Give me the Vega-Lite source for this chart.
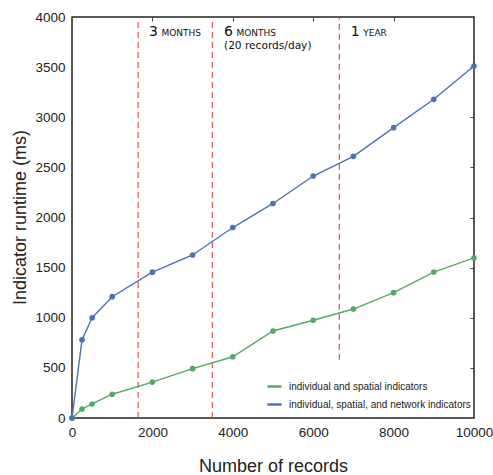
{
  "$schema": "https://vega.github.io/schema/vega-lite/v6.json",
  "width": 402,
  "height": 401,
  "autosize": "none",
  "padding": {"left": 72, "top": 17, "right": 19, "bottom": 57},
  "background": "white",
  "config": {
    "font": "Liberation Sans",
    "view": {"stroke": "#222", "strokeWidth": 1.5}
  },
  "datasets": {
    "series": [
      {"records": 0, "runtime": 0, "series": "individual and spatial indicators"},
      {"records": 250, "runtime": 90, "series": "individual and spatial indicators"},
      {"records": 500, "runtime": 140, "series": "individual and spatial indicators"},
      {"records": 1000, "runtime": 237, "series": "individual and spatial indicators"},
      {"records": 2000, "runtime": 358, "series": "individual and spatial indicators"},
      {"records": 3000, "runtime": 492, "series": "individual and spatial indicators"},
      {"records": 4000, "runtime": 611, "series": "individual and spatial indicators"},
      {"records": 5000, "runtime": 868, "series": "individual and spatial indicators"},
      {"records": 6000, "runtime": 975, "series": "individual and spatial indicators"},
      {"records": 7000, "runtime": 1087, "series": "individual and spatial indicators"},
      {"records": 8000, "runtime": 1250, "series": "individual and spatial indicators"},
      {"records": 9000, "runtime": 1456, "series": "individual and spatial indicators"},
      {"records": 10000, "runtime": 1597, "series": "individual and spatial indicators"},
      {"records": 0, "runtime": 0, "series": "individual, spatial, and network indicators"},
      {"records": 250, "runtime": 780, "series": "individual, spatial, and network indicators"},
      {"records": 500, "runtime": 1000, "series": "individual, spatial, and network indicators"},
      {"records": 1000, "runtime": 1210, "series": "individual, spatial, and network indicators"},
      {"records": 2000, "runtime": 1455, "series": "individual, spatial, and network indicators"},
      {"records": 3000, "runtime": 1626, "series": "individual, spatial, and network indicators"},
      {"records": 4000, "runtime": 1900, "series": "individual, spatial, and network indicators"},
      {"records": 5000, "runtime": 2140, "series": "individual, spatial, and network indicators"},
      {"records": 6000, "runtime": 2414, "series": "individual, spatial, and network indicators"},
      {"records": 7000, "runtime": 2610, "series": "individual, spatial, and network indicators"},
      {"records": 8000, "runtime": 2896, "series": "individual, spatial, and network indicators"},
      {"records": 9000, "runtime": 3179, "series": "individual, spatial, and network indicators"},
      {"records": 10000, "runtime": 3511, "series": "individual, spatial, and network indicators"}
    ],
    "marks": [
      {"records": 1645, "from": 0, "to": 4000},
      {"records": 3490, "from": 0, "to": 4000},
      {"records": 6650, "from": 580, "to": 4000}
    ],
    "labels": [
      {"records": 1915, "runtime": 3810, "num": "3", "word": "MONTHS"},
      {"records": 3781, "runtime": 3810, "num": "6", "word": "MONTHS"},
      {"records": 6933, "runtime": 3810, "num": "1", "word": "YEAR"}
    ],
    "sub": [
      {"records": 3781, "runtime": 3680, "text": "(20 records/day)"}
    ]
  },
  "layer": [
    {
      "data": {"name": "marks"},
      "mark": {"type": "rule", "color": "#e0443c", "strokeWidth": 1.1, "strokeDash": [6, 4]},
      "encoding": {
        "x": {"field": "records", "type": "quantitative", "scale": {"domain": [0, 10000], "nice": false},
          "axis": {"title": "Number of records", "values": [0, 2000, 4000, 6000, 8000, 10000], "format": "d", "ticks": false, "domain": false, "grid": false, "labelFlush": false,
            "labelFontSize": 13.5, "labelColor": "#222", "labelPadding": 7, "titleFontSize": 18, "titleFontWeight": "normal", "titleColor": "#222", "titleY": 48, "titleBaseline": "middle"}},
        "y": {"field": "from", "type": "quantitative", "scale": {"domain": [0, 4000], "nice": false},
          "axis": {"title": "Indicator runtime (ms)", "values": [0, 500, 1000, 1500, 2000, 2500, 3000, 3500, 4000], "format": "d", "ticks": false, "domain": false, "grid": false, "labelFlush": false,
            "labelFontSize": 13.5, "labelColor": "#222", "labelPadding": 7, "titleFontSize": 18, "titleFontWeight": "normal", "titleColor": "#222", "titleX": -52, "titleY": 200, "titleBaseline": "middle", "titleAlign": "center", "titleAngle": -90}},
        "y2": {"field": "to"}
      }
    },
    {
      "data": {"name": "series"},
      "mark": {"type": "line", "strokeWidth": 1.4},
      "encoding": {
        "x": {"field": "records", "type": "quantitative", "axis": null},
        "y": {"field": "runtime", "type": "quantitative", "axis": null},
        "color": {"field": "series", "type": "nominal",
          "scale": {"domain": ["individual and spatial indicators", "individual, spatial, and network indicators"], "range": ["#55a868", "#4c72b0"]},
          "legend": {"title": null, "orient": "none", "legendX": 194, "legendY": 361, "labelFontSize": 10, "labelLimit": 400, "labelColor": "#222", "symbolType": "stroke", "symbolSize": 200, "symbolStrokeWidth": 2.5, "rowPadding": 4, "labelOffset": 6}}
      }
    },
    {
      "data": {"name": "series"},
      "mark": {"type": "point", "filled": true, "size": 32, "opacity": 1},
      "encoding": {
        "x": {"field": "records", "type": "quantitative", "axis": null},
        "y": {"field": "runtime", "type": "quantitative", "axis": null},
        "color": {"field": "series", "type": "nominal", "legend": null}
      }
    },
    {
      "data": {"name": "labels"},
      "mark": {"type": "text", "font": "DejaVu Sans", "fontSize": 14, "align": "left", "baseline": "alphabetic", "color": "#111"},
      "encoding": {
        "x": {"field": "records", "type": "quantitative", "axis": null},
        "y": {"field": "runtime", "type": "quantitative", "axis": null},
        "text": {"field": "num"}
      }
    },
    {
      "data": {"name": "labels"},
      "mark": {"type": "text", "font": "DejaVu Sans", "fontSize": 9, "align": "left", "baseline": "alphabetic", "dx": 12.5, "color": "#111"},
      "encoding": {
        "x": {"field": "records", "type": "quantitative", "axis": null},
        "y": {"field": "runtime", "type": "quantitative", "axis": null},
        "text": {"field": "word"}
      }
    },
    {
      "data": {"name": "sub"},
      "mark": {"type": "text", "font": "DejaVu Sans", "fontSize": 10.6, "align": "left", "baseline": "alphabetic", "color": "#111"},
      "encoding": {
        "x": {"field": "records", "type": "quantitative", "axis": null},
        "y": {"field": "runtime", "type": "quantitative", "axis": null},
        "text": {"field": "text"}
      }
    },
    {
      "data": {"values": [{"v": 0}]},
      "mark": {"type": "rule", "opacity": 0},
      "encoding": {
        "y": {"field": "v", "type": "quantitative",
          "axis": {"orient": "right", "title": null, "labels": false, "domain": false, "grid": false, "ticks": true, "tickSize": -4, "tickColor": "#444", "values": [500, 1000, 1500, 2000, 2500, 3000, 3500]}}
      }
    },
    {
      "data": {"values": [{"v": 0}]},
      "mark": {"type": "rule", "opacity": 0},
      "encoding": {
        "x": {"field": "v", "type": "quantitative",
          "axis": {"orient": "top", "title": null, "labels": false, "domain": false, "grid": false, "ticks": true, "tickSize": -4, "tickColor": "#444", "values": [2000, 4000, 6000, 8000]}}
      }
    }
  ],
  "resolve": {"axis": {"x": "independent", "y": "independent"}}
}
